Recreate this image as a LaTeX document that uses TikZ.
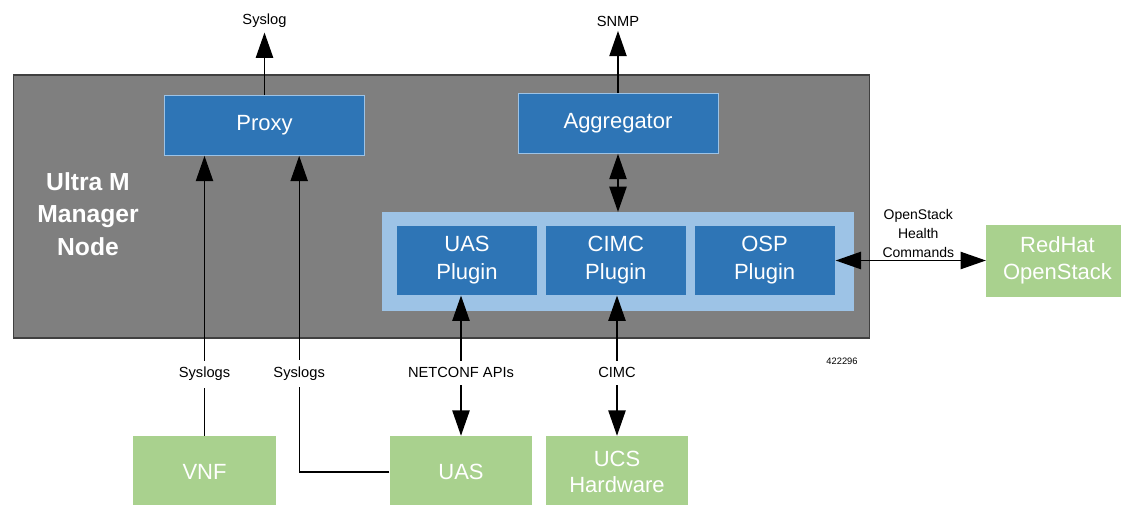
\documentclass[tikz,border=0pt]{standalone}
\usepackage{fontspec}
\setmainfont{Liberation Sans}
\usetikzlibrary{arrows.meta, positioning}
\definecolor{mgrgray}{RGB}{127,127,127}
\definecolor{mgrborder}{RGB}{64,64,64}
\definecolor{ciscoblue}{RGB}{46,117,182}
\definecolor{paleblue}{RGB}{157,195,230}
\definecolor{extgreen}{RGB}{169,209,142}

\begin{document}
\begin{tikzpicture}[
    x=0.75pt, y=-0.75pt,
    mgr/.style={draw=mgrborder, line width=1.2pt, fill=mgrgray, minimum width=642pt,
               minimum height=197pt, inner sep=0pt},
    svc/.style={draw=paleblue, line width=0.6pt, fill=ciscoblue, text=white, minimum width=150pt,
               minimum height=45pt, align=center, font=\fontsize{16.5}{21}\selectfont},
    plug/.style={svc, minimum width=106pt, minimum height=52pt},
    tray/.style={fill=paleblue, minimum width=354pt, minimum height=74pt, inner sep=0pt},
    ext/.style={fill=extgreen, text=white, minimum width=107pt, minimum height=54pt,
               align=center, font=\fontsize{16.5}{20}\selectfont},
    lbl/.style={fill=white, font=\fontsize{11}{13}\selectfont, inner xsep=2pt, inner ysep=5pt},
    arrow/.style={-{Triangle[length=19pt,width=13pt]}, line width=1pt},
    biarrow/.style={{Triangle[length=19pt,width=13pt]}-{Triangle[length=19pt,width=13pt]}, line width=1pt}
]
\useasboundingbox (0,0) rectangle (1121,504);
\node[mgr] (mgr) at (441.5,206.5) {};
\node[text=white, align=center, font=\bfseries\fontsize{18.5}{24.5}\selectfont] (title) at (88,214) {Ultra M\\Manager\\Node};
\node[svc] (proxy) at (264.5,125.5) {Proxy};
\node[svc] (agg) at (618,123.5) {Aggregator};
\node[tray] (tray) at (618,261.5) {};
\node[plug] (uasp) at (467,260.5) {UAS\\Plugin};
\node[plug, right=5pt of uasp] (cimcp) {CIMC\\Plugin};
\node[plug, right=5pt of cimcp] (ospp) {OSP\\Plugin};
\node[ext] (vnf) at (204.5,472) {VNF};
\node[ext] (uas) at (461,472) {UAS};
\node[ext] (ucs) at (617,472) {UCS\\Hardware};
\node[ext] (rh) at (1057.5,260.5) {RedHat\\OpenStack};
\node[font=\fontsize{11}{13}\selectfont] (syslog) at (264.5,21) {Syslog};
\node[font=\fontsize{11}{13}\selectfont] (snmp) at (618,21) {SNMP};
\node[font=\fontsize{7}{8}\selectfont] (figno) at (842,361) {422296};
\draw[arrow] (proxy) -- (syslog);
\draw[arrow] (agg) -- (snmp);
\draw[biarrow] (agg) -- (tray);
\draw[arrow] (vnf) -- (vnf |- proxy.south) node[lbl, pos=0.22] {Syslogs};
\draw[arrow] (uas.west) -| ([xshift=26pt]proxy.south) node[lbl, pos=0.656] {Syslogs};
\draw[biarrow] (uas) -- (uas |- uasp.south) node[lbl, pos=0.45] {NETCONF APIs};
\draw[biarrow] (ucs) -- (ucs |- cimcp.south) node[lbl, pos=0.45] {CIMC};
\draw[biarrow] (ospp) -- (rh) node[above, pos=0.55, align=center, inner sep=2pt,
    font=\fontsize{10.5}{14}\selectfont] {OpenStack\\Health\\Commands};
\end{tikzpicture}
\end{document}
